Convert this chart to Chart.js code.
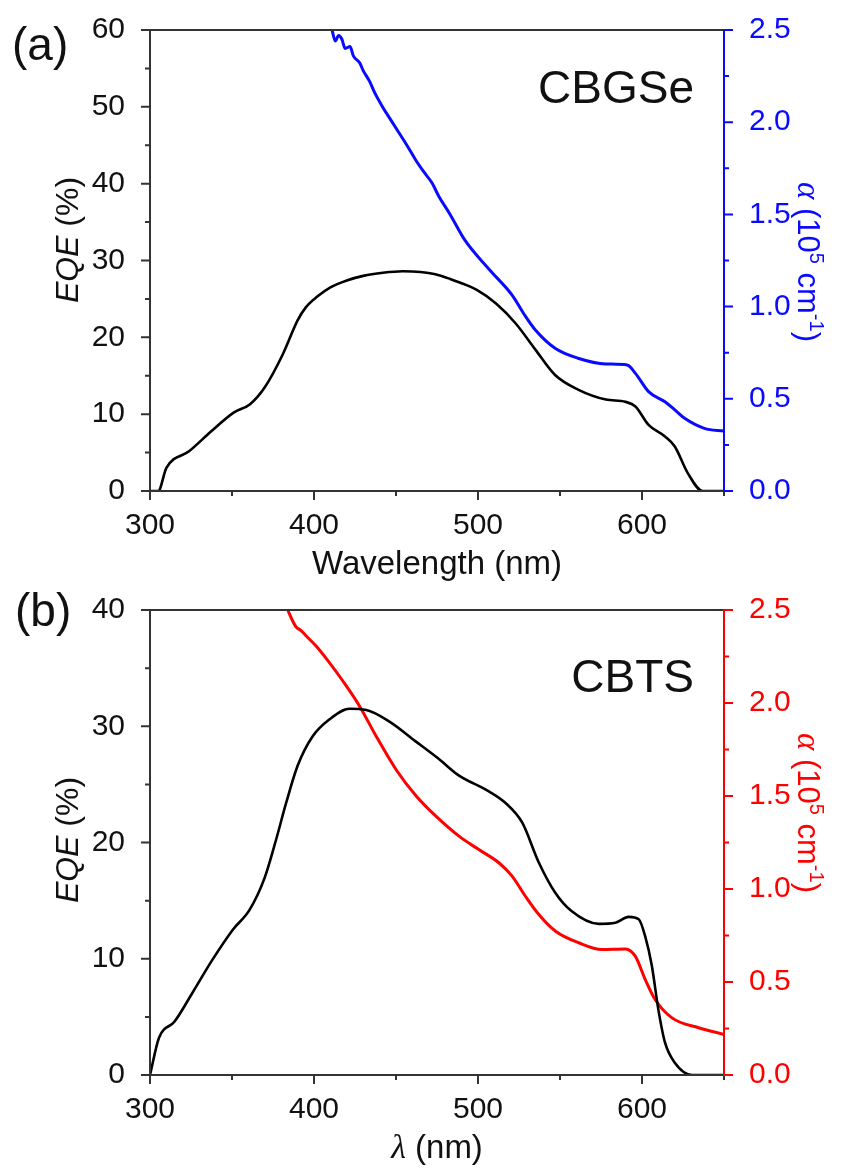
<!DOCTYPE html>
<html>
<head>
<meta charset="utf-8">
<script src="https://cdn.jsdelivr.net/npm/chart.js@4/dist/chart.umd.min.js"></script>
<style>
  body { margin: 0; background: #fff; }
  .panel { position: absolute; left: 0; width: 843px; }
</style>
</head>
<body>
<div class="panel" style="top:0;height:585px"><canvas id="chartA" width="843" height="585"></canvas></div>
<div class="panel" style="top:585px;height:584px"><canvas id="chartB" width="843" height="584"></canvas></div>
<script>
// ---- panel (a) CBGSe ----
const eqeWlA = [300, 305, 310, 324, 337, 351, 361, 370, 381, 390, 395, 402, 410, 420, 430, 442, 454, 465, 474, 483, 488, 499, 511, 523, 535, 547, 561, 578, 590, 596, 604, 614, 620, 628, 637, 650];
const eqeA   = [0, 0, 3.0, 5.2, 7.7, 10.2, 11.3, 13.5, 17.8, 22.2, 23.9, 25.3, 26.5, 27.4, 28.0, 28.4, 28.6, 28.5, 28.2, 27.6, 27.2, 26.2, 24.4, 21.8, 18.4, 15.1, 13.2, 11.9, 11.6, 11.0, 8.6, 7.1, 5.8, 2.3, 0, 0];
const absWlA = [411, 413, 415, 417, 419, 422, 424, 428, 430, 434, 437, 442, 447, 452, 457, 462, 467, 472, 476, 483, 492, 507, 521, 528, 535, 547, 561, 578, 591, 596, 604, 614, 620, 626, 638, 650];
const absA   = [2.5, 2.44, 2.47, 2.45, 2.40, 2.41, 2.36, 2.32, 2.28, 2.22, 2.16, 2.08, 2.01, 1.94, 1.87, 1.795, 1.73, 1.67, 1.60, 1.50, 1.36, 1.20, 1.06, 0.96, 0.873, 0.774, 0.72, 0.689, 0.683, 0.638, 0.539, 0.484, 0.44, 0.394, 0.34, 0.325];

// ---- panel (b) CBTS ----
const eqeWlB = [300, 305.5, 315, 326, 338, 350.5, 360.7, 370, 377, 383, 390, 399, 409.5, 421.7, 431.9, 446, 462, 476, 488, 506.6, 516.8, 527, 537, 547, 557, 573.6, 583.8, 591.9, 598, 602, 606, 610, 614, 620, 630.5, 650];
const eqeB   = [0, 3.2, 4.6, 7.1, 9.9, 12.5, 14.2, 17.0, 20.3, 23.4, 26.6, 29.1, 30.6, 31.5, 31.4, 30.4, 28.7, 27.2, 25.8, 24.4, 23.4, 21.7, 18.3, 15.7, 14.1, 13.0, 13.1, 13.6, 13.4, 11.9, 9.4, 5.6, 2.8, 1.05, 0, 0];
const absWlB = [384, 386.5, 389, 392, 395.3, 401.4, 409.5, 417.7, 427.8, 438, 450.2, 462.3, 474.5, 488.4, 500.5, 512.7, 520.8, 528.9, 537.1, 547.3, 561.4, 575.6, 589.8, 595.9, 602, 608, 618.3, 634.5, 650];
const absB   = [2.5, 2.45, 2.41, 2.39, 2.36, 2.305, 2.216, 2.117, 1.983, 1.82, 1.64, 1.50, 1.39, 1.284, 1.212, 1.141, 1.069, 0.961, 0.863, 0.773, 0.711, 0.675, 0.678, 0.639, 0.513, 0.406, 0.307, 0.254, 0.218];

// ticks
const xMajor = [300, 400, 500, 600];
const xMinor = [350, 450, 550, 650];
const absMajor = [0, 0.5, 1.0, 1.5, 2.0, 2.5];
const absMinor = [0.25, 0.75, 1.25, 1.75, 2.25];
const eqeMajorA = [0, 10, 20, 30, 40, 50, 60];
const eqeMinorA = [5, 15, 25, 35, 45, 55];
const eqeMajorB = [0, 10, 20, 30, 40];
const eqeMinorB = [5, 15, 25, 35];

const FONT = '"Liberation Sans", Arial, sans-serif';
const SERIF = '"Liberation Serif", "Times New Roman", serif';
const AXIS = '#333333';

function pts(xs, ys) {
  return xs.map((x, i) => ({ x: x, y: ys[i] }));
}

// a row of text pieces with different fonts, centred on (cx, cy), rotated
function richText(ctx, parts, cx, cy, angle, color, base) {
  ctx.save();
  ctx.translate(cx, cy);
  ctx.rotate(angle);
  ctx.fillStyle = color;
  ctx.textBaseline = 'alphabetic';
  ctx.textAlign = 'left';
  let total = 0;
  parts.forEach(p => { ctx.font = p.font; total += ctx.measureText(p.t).width; });
  let x = -total / 2;
  parts.forEach(p => {
    ctx.font = p.font;
    ctx.fillText(p.t, x, (p.dy || 0) + base);
    x += ctx.measureText(p.t).width;
  });
  ctx.restore();
}

const framePlugin = {
  id: 'frame',
  afterDraw(chart, args, o) {
    const ctx = chart.ctx;
    const a = chart.chartArea;
    const xs = chart.scales.x, yl = chart.scales.y, yr = chart.scales.y1;
    ctx.save();
    ctx.lineWidth = 2;
    ctx.strokeStyle = AXIS;
    ctx.beginPath();
    ctx.moveTo(a.left, a.bottom); ctx.lineTo(a.left, a.top); ctx.lineTo(a.right, a.top);
    ctx.moveTo(a.left, a.bottom); ctx.lineTo(a.right, a.bottom);
    ctx.stroke();
    ctx.beginPath();
    xMajor.forEach(v => { const p = xs.getPixelForValue(v); ctx.moveTo(p, a.bottom); ctx.lineTo(p, a.bottom + 9); });
    xMinor.forEach(v => { const p = xs.getPixelForValue(v); ctx.moveTo(p, a.bottom); ctx.lineTo(p, a.bottom + 5); });
    o.eqeMajor.forEach(v => { const p = yl.getPixelForValue(v); ctx.moveTo(a.left, p); ctx.lineTo(a.left - 9, p); });
    o.eqeMinor.forEach(v => { const p = yl.getPixelForValue(v); ctx.moveTo(a.left, p); ctx.lineTo(a.left - 5, p); });
    ctx.stroke();
    // right axis in the series colour
    ctx.strokeStyle = o.color;
    ctx.beginPath();
    ctx.moveTo(a.right, a.top - 1); ctx.lineTo(a.right, a.bottom + 1);
    absMajor.forEach(v => { const p = yr.getPixelForValue(v); ctx.moveTo(a.right, p); ctx.lineTo(a.right + 9, p); });
    absMinor.forEach(v => { const p = yr.getPixelForValue(v); ctx.moveTo(a.right, p); ctx.lineTo(a.right + 5, p); });
    ctx.stroke();

    // panel letter and sample name
    ctx.fillStyle = '#111';
    ctx.font = '46px ' + FONT;
    ctx.textBaseline = 'alphabetic';
    ctx.textAlign = 'left';
    ctx.fillText(o.letter, o.letterX, o.letterY);
    ctx.textAlign = 'right';
    ctx.fillText(o.name, o.nameX, o.nameY);

    // axis titles
    richText(ctx, [
      { t: 'EQE', font: 'italic 32px ' + FONT },
      { t: ' (%)', font: '32px ' + FONT }
    ], 66, o.leftTitleY, -Math.PI / 2, '#111', 11.5);
    richText(ctx, [
      { t: 'α', font: 'italic 33px ' + SERIF },
      { t: ' (10', font: '31px ' + FONT },
      { t: '5', font: '20px ' + FONT, dy: -12 },
      { t: ' cm', font: '31px ' + FONT },
      { t: '-1', font: '20px ' + FONT, dy: -12 },
      { t: ')', font: '31px ' + FONT }
    ], 809, o.rightTitleY, Math.PI / 2, o.color, 11);
    richText(ctx, o.xTitle, (a.left + a.right) / 2, a.bottom + 83, 0, '#111', 0);
    ctx.restore();
  }
};

function noEdgePad(s) {
  s.paddingTop = 0;
  s.paddingBottom = 0;
}

function makePanel(id, eqe, abs, color, eqeMax, top, extra) {
  return new Chart(document.getElementById(id), {
    type: 'line',
    data: {
      datasets: [
        { data: eqe, yAxisID: 'y', borderColor: '#000', borderWidth: 2.6, pointRadius: 0, cubicInterpolationMode: 'monotone' },
        { data: abs, yAxisID: 'y1', borderColor: color, borderWidth: 3, pointRadius: 0, cubicInterpolationMode: 'monotone' }
      ]
    },
    options: {
      responsive: false,
      animation: false,
      devicePixelRatio: 1,
      layout: { padding: { top: top, left: 0, right: 0, bottom: 0 } },
      plugins: {
        legend: { display: false },
        tooltip: { enabled: false },
        frame: Object.assign({ color: color }, extra)
      },
      scales: {
        x: {
          type: 'linear', min: 300, max: 650,
          grid: { display: false }, border: { display: false },
          ticks: { stepSize: 100, color: '#111', padding: 9, font: { family: FONT, size: 30 },
                   autoSkip: false, maxRotation: 0,
                   callback: v => (v % 100 === 0 ? v : '') },
          afterFit: s => { s.height = 94; s.paddingLeft = 0; s.paddingRight = 0; }
        },
        y: {
          position: 'left', min: 0, max: eqeMax,
          grid: { display: false }, border: { display: false },
          ticks: { stepSize: 10, color: '#111', padding: 17, font: { family: FONT, size: 30 } },
          afterFit: s => { s.width = 150; noEdgePad(s); }
        },
        y1: {
          position: 'right', min: 0, max: 2.5,
          grid: { display: false }, border: { display: false },
          ticks: { stepSize: 0.5, color: color, padding: 17, font: { family: FONT, size: 30 },
                   callback: v => v.toFixed(1) },
          afterFit: s => { s.width = 119; noEdgePad(s); }
        }
      }
    },
    plugins: [framePlugin]
  });
}

makePanel('chartA', pts(eqeWlA, eqeA), pts(absWlA, absA), '#0a0aff', 60, 30, {
  letter: '(a)', letterX: 12, letterY: 60,
  name: 'CBGSe', nameX: 694, nameY: 103,
  leftTitleY: 240, rightTitleY: 262,
  eqeMajor: eqeMajorA, eqeMinor: eqeMinorA,
  xTitle: [{ t: 'Wavelength (nm)', font: '33px ' + FONT }]
});

makePanel('chartB', pts(eqeWlB, eqeB), pts(absWlB, absB), '#ff0000', 40, 25, {
  letter: '(b)', letterX: 15, letterY: 41,
  name: 'CBTS', nameX: 694, nameY: 107,
  leftTitleY: 255, rightTitleY: 228,
  eqeMajor: eqeMajorB, eqeMinor: eqeMinorB,
  xTitle: [{ t: 'λ', font: 'italic 34px ' + SERIF }, { t: ' (nm)', font: '33px ' + FONT }]
});
</script>
</body>
</html>
